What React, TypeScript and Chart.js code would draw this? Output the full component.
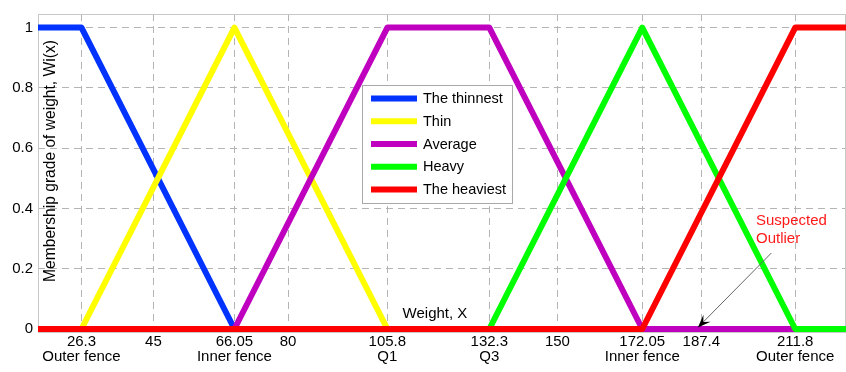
import React, { useEffect, useRef } from "react";
import { Chart, registerables } from "chart.js";

Chart.register(...registerables);

// ---------- data ----------
const X_MIN = 15;
const X_MAX = 225;
const Y_MIN = -0.01;
const Y_MAX = 1.045;

const xTickValues = [26.3, 45, 66.05, 80, 105.8, 132.3, 150, 172.05, 187.4, 211.8];
const xTickLabels = ["26.3", "45", "66.05", "80", "105.8", "132.3", "150", "172.05", "187.4", "211.8"];
const xTickSubLabels = ["Outer fence", "", "Inner fence", "", "Q1", "Q3", "", "Inner fence", "", "Outer fence"];
const yTickValues = [0, 0.2, 0.4, 0.6, 0.8, 1];
const yTickLabels = ["0", "0.2", "0.4", "0.6", "0.8", "1"];

const seriesNames = ["The thinnest", "Thin", "Average", "Heavy", "The heaviest"];
const seriesColors = ["#0033ff", "#ffff00", "#bf00bf", "#00ff00", "#ff0000"];

const thinnestX = [15, 26.3, 66.05, 225];
const thinnestY = [1, 1, 0, 0];
const thinX = [15, 26.3, 66.05, 105.8, 225];
const thinY = [0, 0, 1, 0, 0];
const averageX = [15, 66.05, 105.8, 132.3, 172.05, 225];
const averageY = [0, 0, 1, 1, 0, 0];
const heavyX = [15, 132.3, 172.05, 211.8, 225];
const heavyY = [0, 0, 1, 0, 0];
const heaviestX = [15, 172.05, 211.8, 225];
const heaviestY = [0, 0, 1, 1];

const xTitle = "Weight, X";
const yTitle = "Membership grade of weight, Wi(x)";
const outlierText = ["Suspected", "Outlier"];
const outlierTextPos = { x: 201.6, y1: 0.36, y2: 0.299 };
const outlierArrow = { fromX: 205.6, fromY: 0.252, toX: 186.5, toY: 0.005 };

const FONT = "'Liberation Sans', Arial, Helvetica, sans-serif";
const FS = 15;

const zip = (xs: number[], ys: number[]) => xs.map((x, i) => ({ x, y: ys[i] }));

const overlayPlugin = {
  id: "overlay",
  beforeDatasetsDraw(chart: any) {
    const { ctx, chartArea } = chart;
    ctx.save();
    ctx.strokeStyle = "#c8c8c8";
    ctx.lineWidth = 1;
    ctx.strokeRect(chartArea.left + 0.5, chartArea.top + 0.5, chartArea.right - chartArea.left - 1, chartArea.bottom - chartArea.top);
    ctx.restore();
  },
  afterDatasetsDraw(chart: any) {
    const { ctx, scales } = chart;
    const xs = scales.x;
    const ys = scales.y;
    ctx.save();
    // y title inside plot, sized to span ~242px
    ctx.fillStyle = "#000";
    ctx.font = `15px ${FONT}`;
    const w15 = ctx.measureText(yTitle).width;
    const ySize = Math.min(17, Math.max(13, (15 * 242) / w15));
    ctx.font = `${ySize}px ${FONT}`;
    ctx.textAlign = "center";
    ctx.textBaseline = "middle";
    ctx.save();
    ctx.translate(50.5, 161);
    ctx.rotate(-Math.PI / 2);
    ctx.fillText(yTitle, 0, 0);
    ctx.restore();
    // x title
    ctx.font = `${FS}px ${FONT}`;
    ctx.fillText(xTitle, 435, 314);

    // Suspected outlier text
    ctx.fillStyle = "#ff1a1a";
    ctx.textAlign = "left";
    ctx.fillText(outlierText[0], xs.getPixelForValue(outlierTextPos.x), ys.getPixelForValue(outlierTextPos.y1));
    ctx.fillText(outlierText[1], xs.getPixelForValue(outlierTextPos.x), ys.getPixelForValue(outlierTextPos.y2));

    // arrow
    const x1 = xs.getPixelForValue(outlierArrow.fromX);
    const y1 = ys.getPixelForValue(outlierArrow.fromY);
    const x2 = xs.getPixelForValue(outlierArrow.toX);
    const y2 = ys.getPixelForValue(outlierArrow.toY);
    const ang = Math.atan2(y2 - y1, x2 - x1);
    ctx.strokeStyle = "#666";
    ctx.lineWidth = 1;
    ctx.beginPath();
    ctx.moveTo(x1, y1);
    ctx.lineTo(x2 - Math.cos(ang) * 8, y2 - Math.sin(ang) * 8);
    ctx.stroke();
    const L = 13;
    const W = 5;
    const bx = x2 - Math.cos(ang) * L;
    const by = y2 - Math.sin(ang) * L;
    const nx = -Math.sin(ang);
    const ny = Math.cos(ang);
    const mx = x2 - Math.cos(ang) * (L * 0.6);
    const my = y2 - Math.sin(ang) * (L * 0.6);
    ctx.fillStyle = "#000";
    ctx.beginPath();
    ctx.moveTo(x2, y2);
    ctx.lineTo(bx + nx * W, by + ny * W);
    ctx.lineTo(mx, my);
    ctx.lineTo(bx - nx * W, by - ny * W);
    ctx.closePath();
    ctx.fill();

    // legend
    const lx = 362, ly = 85, lw = 150, lh = 118;
    ctx.fillStyle = "#fff";
    ctx.fillRect(lx, ly, lw, lh);
    ctx.strokeStyle = "#a8a8a8";
    ctx.lineWidth = 1;
    ctx.strokeRect(lx + 0.5, ly + 0.5, lw, lh);
    ctx.font = `14.5px ${FONT}`;
    ctx.textAlign = "left";
    ctx.textBaseline = "middle";
    seriesNames.forEach((name, i) => {
      const cy = 98.5 + i * 22.75;
      ctx.strokeStyle = seriesColors[i];
      ctx.lineWidth = 6;
      ctx.beginPath();
      ctx.moveTo(371, cy);
      ctx.lineTo(417, cy);
      ctx.stroke();
      ctx.fillStyle = "#000";
      ctx.fillText(name, 423, cy + 0.5);
    });
    ctx.restore();
  },
};

export default function App() {
  const ref = useRef<HTMLCanvasElement | null>(null);
  useEffect(() => {
    if (!ref.current) return;
    const xsList = [thinnestX, thinX, averageX, heavyX, heaviestX];
    const ysList = [thinnestY, thinY, averageY, heavyY, heaviestY];
    const orders = [5, 4, 3, 2, 1];
    const chart = new Chart(ref.current, {
      type: "line",
      data: {
        datasets: seriesNames.map((name, i) => ({
          label: name,
          data: zip(xsList[i], ysList[i]),
          borderColor: seriesColors[i],
          backgroundColor: seriesColors[i],
          borderWidth: 6,
          pointRadius: 0,
          pointHoverRadius: 0,
          tension: 0,
          fill: false,
          borderJoinStyle: "round" as const,
          borderCapStyle: "butt" as const,
          order: orders[i],
        })),
      },
      options: {
        animation: false,
        responsive: false,
        maintainAspectRatio: false,
        events: [],
        layout: { padding: { top: 4, right: 0, left: 0, bottom: 0 } },
        plugins: {
          legend: { display: false },
          tooltip: { enabled: false },
          title: { display: false },
        },
        scales: {
          x: {
            type: "linear",
            min: X_MIN,
            max: X_MAX,
            afterBuildTicks: (scale: any) => {
              scale.ticks = xTickValues.map((v) => ({ value: v }));
            },
            afterFit: (scale: any) => {
              scale.height = 40;
            },
            ticks: {
              autoSkip: false,
              maxRotation: 0,
              minRotation: 0,
              padding: 2.5,
              color: "#000",
              font: { family: FONT, size: FS, lineHeight: 1.0 },
              callback: (value: any, index: number) => {
                const sub = xTickSubLabels[index];
                return sub ? [xTickLabels[index], sub] : xTickLabels[index];
              },
            },
            grid: {
              color: "#b4b4b4",
              lineWidth: 1,
              drawTicks: false,
            },
            border: { display: false, dash: [7, 5] },
          },
          y: {
            type: "linear",
            min: Y_MIN,
            max: Y_MAX,
            afterBuildTicks: (scale: any) => {
              scale.ticks = yTickValues.map((v) => ({ value: v }));
            },
            afterFit: (scale: any) => {
              scale.width = 38;
            },
            ticks: {
              padding: 5,
              color: "#000",
              font: { family: FONT, size: FS },
              callback: (value: any, index: number) => yTickLabels[index],
            },
            grid: {
              color: "#b4b4b4",
              lineWidth: 1,
              drawTicks: false,
            },
            border: { display: false, dash: [7, 5] },
          },
        },
      },
      plugins: [overlayPlugin],
    });
    return () => chart.destroy();
  }, []);
  return (
    <div style={{ position: "fixed", left: 0, top: 0, width: 846, height: 372, background: "#fff" }}>
      <canvas ref={ref} width={846} height={372} style={{ display: "block", width: 846, height: 372 }} />
    </div>
  );
}
